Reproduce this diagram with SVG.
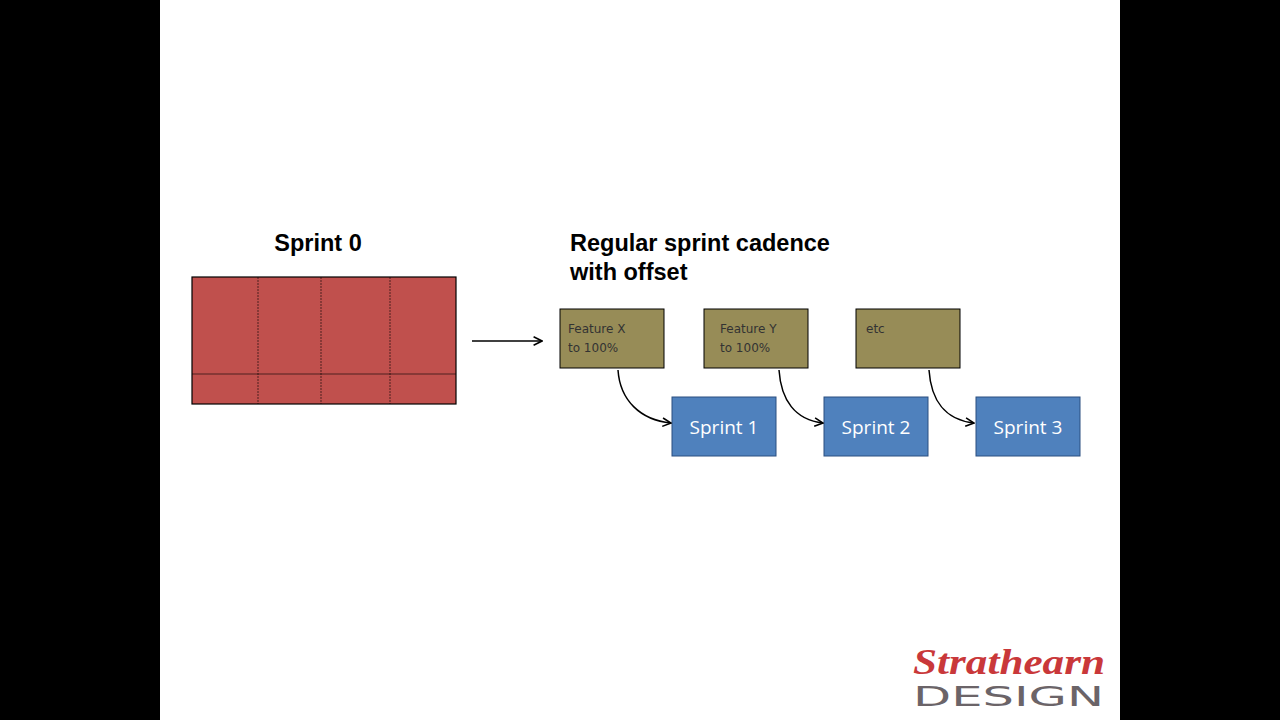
<svg xmlns="http://www.w3.org/2000/svg" width="1280" height="720" viewBox="0 0 1280 720">
<style>
.t{font-family:"Liberation Sans",Arial,sans-serif;font-weight:bold;font-size:23.5px;fill:#000}
.f{fill:#978c57;stroke:#000;stroke-width:1}
.fs{font-family:"DejaVu Sans","Open Sans",sans-serif;font-size:12px;fill:#333}
.s{fill:#4f81bd;stroke:#2a4f80;stroke-width:1}
.st{font-family:"Open Sans","DejaVu Sans",sans-serif;font-size:19px;fill:#fff;text-anchor:middle}
.c{fill:none;stroke:#000;stroke-width:1.5}
</style>
<defs><marker id="a" viewBox="0 0 10 10" refX="9" refY="5" markerWidth="7" markerHeight="7" orient="auto"><path d="M1,1 L9,5 L1,9" fill="none" stroke="#000" stroke-width="1.5"/></marker></defs>
<rect width="1280" height="720" fill="#000"/>
<rect x="160" width="960" height="720" fill="#fff"/>
<text class="t" x="318" y="251" text-anchor="middle">Sprint 0</text>
<text class="t" x="570" y="251">Regular sprint cadence</text>
<text class="t" x="570" y="280">with offset</text>
<g id="sprint0">
<rect x="192" y="277" width="264" height="127" fill="#c0504d" stroke="#000" stroke-width="1.2"/>
<g stroke="#000" stroke-width="0.6" stroke-dasharray="2,1">
<line x1="258" y1="277" x2="258" y2="404"/><line x1="321" y1="277" x2="321" y2="404"/><line x1="390" y1="277" x2="390" y2="404"/>
<line x1="192" y1="374" x2="456" y2="374" stroke-dasharray="none"/></g>
</g>
<g id="fx"><rect class="f" x="560" y="309" width="104" height="59"/><text class="fs" x="568" y="333">Feature  X</text><text class="fs" x="568" y="352">to 100%</text></g>
<g id="fy"><rect class="f" x="704" y="309" width="104" height="59"/><text class="fs" x="720" y="333">Feature  Y</text><text class="fs" x="720" y="352">to 100%</text></g>
<g id="etc"><rect class="f" x="856" y="309" width="104" height="59"/><text class="fs" x="866" y="333">etc</text></g>
<g id="s1"><rect class="s" x="672" y="397" width="104" height="59"/><text class="st" x="724" y="434">Sprint 1</text></g>
<g id="s2"><rect class="s" x="824" y="397" width="104" height="59"/><text class="st" x="876" y="434">Sprint 2</text></g>
<g id="s3"><rect class="s" x="976" y="397" width="104" height="59"/><text class="st" x="1028" y="434">Sprint 3</text></g>
<g id="connectors">
<line class="c" x1="472" y1="341" x2="542" y2="341" marker-end="url(#a)"/>
<path class="c" d="M618,370 C620,400 640,420 671,423" marker-end="url(#a)"/>
<path class="c" d="M779,370 C781,400 795,420 823,423" marker-end="url(#a)"/>
<path class="c" d="M929,370 C931,400 945,420 974,423" marker-end="url(#a)"/>
</g>
<text x="913" y="674" textLength="192" lengthAdjust="spacingAndGlyphs" font-family="'Liberation Serif',serif" font-style="italic" font-weight="bold" font-size="36" fill="#c9383a">Strathearn</text>
<text x="913" y="706" textLength="191" lengthAdjust="spacingAndGlyphs" font-family="'DejaVu Sans',sans-serif" font-size="27" fill="#6b6468">DESIGN</text>
</svg>
